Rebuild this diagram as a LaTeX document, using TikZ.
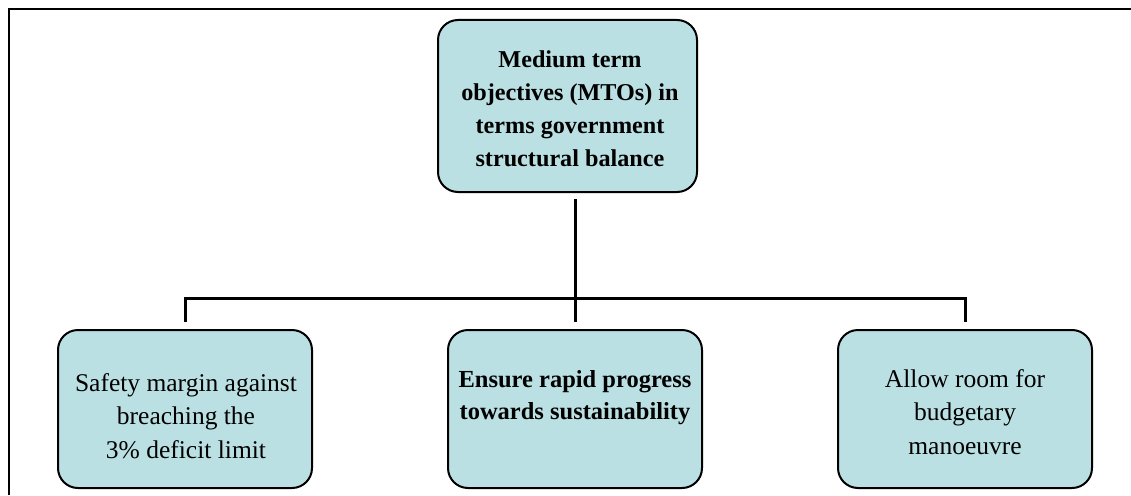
\documentclass[tikz,border=0pt]{standalone}
\usepackage{fontspec}
\setmainfont{Liberation Serif}
\definecolor{boxfill}{RGB}{187,224,227}
\begin{document}
\begin{tikzpicture}[x=1pt,y=-1pt,
  box/.style={draw=black, line width=2pt, fill=boxfill, rounded corners=20pt, inner sep=0pt},
  conn/.style={line width=3pt, line join=miter},
  frame/.style={line width=2pt},
  lbl/.style={align=center, inner sep=0pt, font=\fontsize{25.5}{33.5}\selectfont},
  blbl/.style={align=center, inner sep=0pt, font=\bfseries\fontsize{24.2}{33}\selectfont}]
\useasboundingbox (0,0) rectangle (1131,495);
\draw[frame] (9,495) -- (9,9.5) -- (1131,9.5);
\node[box, minimum width=259pt, minimum height=172pt] (top) at (567.5,106) {};
\node[box, minimum width=254pt, minimum height=158pt] (left) at (185,409) {};
\node[box, minimum width=254pt, minimum height=158pt] (mid) at (575,409) {};
\node[box, minimum width=254pt, minimum height=158pt] (right) at (965,409) {};
\coordinate (bus) at (575,298);
\draw[conn] ([yshift=-6pt]top.south -| mid.north) -- ([yshift=7pt]mid.north);
\draw[conn] ([yshift=7pt]left.north) -- (left.north |- bus) -- (right.north |- bus) -- ([yshift=7pt]right.north);
\node[blbl] (toptxt) at (570,109) {Medium term\\objectives (MTOs) in\\terms government\\structural balance};
\node[lbl] (lefttxt) at (186,416) {Safety margin against\\breaching the\\3\% deficit limit};
\node[blbl, font=\bfseries\fontsize{24.5}{32}\selectfont] (midtxt) at (575,398) {Ensure rapid progress\\towards sustainability};
\node[lbl] (righttxt) at (965,412) {Allow room for\\budgetary\\manoeuvre};
\end{tikzpicture}
\end{document}
